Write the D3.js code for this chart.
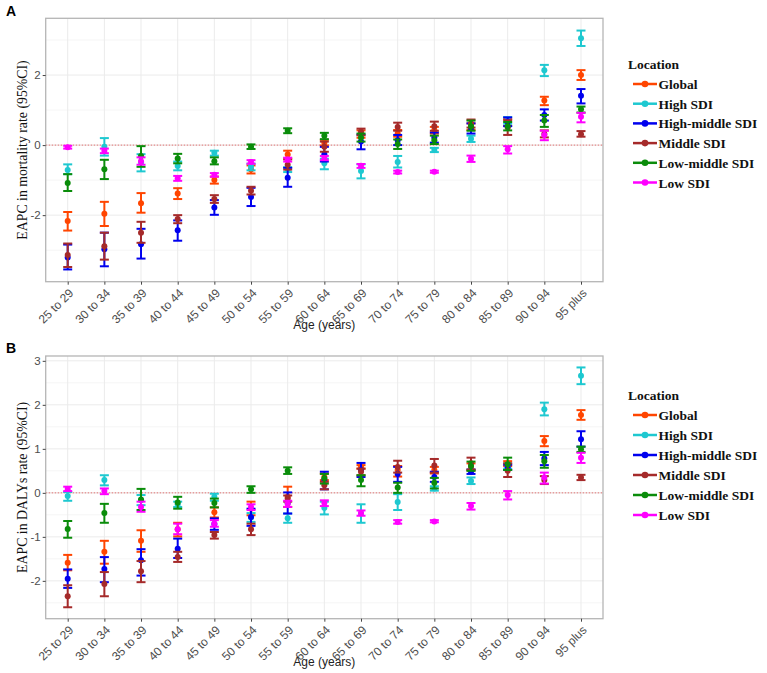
<!DOCTYPE html>
<html><head><meta charset="utf-8">
<script src="https://cdn.jsdelivr.net/npm/d3@7"></script>
<style>body{margin:0;background:#fff}svg{display:block}</style>
</head><body>
<svg id="c" width="767" height="673"></svg>
<script>
const ages = ["25 to 29","30 to 34","35 to 39","40 to 44","45 to 49","50 to 54","55 to 59","60 to 64","65 to 69","70 to 74","75 to 79","80 to 84","85 to 89","90 to 94","95 plus"];
const locations = ["Global","High SDI","High-middle SDI","Middle SDI","Low-middle SDI","Low SDI"];
const locColors = ["#FF4500","#1EC8D0","#0000EE","#A52A2A","#0A8C0A","#FF00FF"];

// Panel A: EAPC in mortality rate, [value, lower, upper]
const mortGlobal = [[-2.17,-2.44,-1.91],[-1.96,-2.31,-1.62],[-1.66,-1.93,-1.37],[-1.38,-1.54,-1.23],[-1.00,-1.10,-0.90],[-0.70,-0.81,-0.58],[-0.27,-0.38,-0.16],[0.07,-0.01,0.15],[0.31,0.21,0.42],[0.33,0.24,0.43],[0.43,0.33,0.52],[0.52,0.43,0.62],[0.64,0.55,0.74],[1.27,1.14,1.38],[2.00,1.86,2.14]];
const mortHigh = [[-0.71,-0.83,-0.55],[-0.05,-0.30,0.20],[-0.50,-0.75,-0.26],[-0.60,-0.72,-0.47],[-0.22,-0.30,-0.16],[-0.62,-0.72,-0.53],[-0.70,-0.77,-0.63],[-0.52,-0.69,-0.39],[-0.74,-0.95,-0.55],[-0.48,-0.64,-0.31],[-0.14,-0.20,-0.08],[0.18,0.09,0.27],[0.71,0.61,0.80],[2.14,1.97,2.29],[3.05,2.83,3.27]];
const mortHighMiddle = [[-3.21,-3.55,-2.84],[-2.97,-3.46,-2.50],[-2.83,-3.24,-2.39],[-2.43,-2.73,-2.15],[-1.78,-1.99,-1.57],[-1.48,-1.74,-1.22],[-0.93,-1.19,-0.65],[-0.26,-0.47,-0.05],[0.10,-0.12,0.30],[0.14,0.00,0.29],[0.22,0.07,0.36],[0.48,0.33,0.62],[0.67,0.54,0.79],[0.86,0.70,1.02],[1.41,1.19,1.60]];
const mortMiddle = [[-3.14,-3.48,-2.81],[-2.89,-3.27,-2.50],[-2.50,-2.79,-2.19],[-2.11,-2.23,-2.00],[-1.54,-1.65,-1.43],[-1.30,-1.41,-1.19],[-0.56,-0.70,-0.41],[-0.05,-0.19,0.10],[0.38,0.28,0.47],[0.52,0.41,0.64],[0.54,0.41,0.67],[0.62,0.50,0.73],[0.50,0.29,0.71],[0.32,0.22,0.42],[0.31,0.24,0.40]];
const mortLowMiddle = [[-1.08,-1.31,-0.83],[-0.69,-0.97,-0.42],[-0.31,-0.62,-0.03],[-0.38,-0.52,-0.25],[-0.46,-0.55,-0.35],[-0.05,-0.11,0.02],[0.41,0.34,0.48],[0.27,0.17,0.35],[0.22,0.10,0.33],[0.03,-0.11,0.16],[0.14,0.03,0.27],[0.54,0.41,0.70],[0.54,0.42,0.66],[0.70,0.52,0.86],[1.02,0.93,1.10]];
const mortLow = [[-0.06,-0.10,-0.02],[-0.16,-0.23,-0.10],[-0.46,-0.56,-0.35],[-0.95,-1.02,-0.88],[-0.85,-0.90,-0.80],[-0.48,-0.53,-0.43],[-0.41,-0.47,-0.36],[-0.37,-0.43,-0.31],[-0.59,-0.65,-0.54],[-0.77,-0.81,-0.73],[-0.76,-0.79,-0.73],[-0.39,-0.48,-0.30],[-0.12,-0.24,-0.03],[0.29,0.14,0.41],[0.81,0.65,0.92]];

// Panel B: EAPC in DALYs rate, [value, lower, upper]
const dalyGlobal = [[-1.59,-1.76,-1.41],[-1.34,-1.61,-1.09],[-1.09,-1.34,-0.85],[-0.83,-0.99,-0.68],[-0.44,-0.56,-0.33],[-0.36,-0.51,-0.20],[-0.09,-0.32,0.14],[0.36,0.29,0.44],[0.59,0.55,0.63],[0.52,0.37,0.61],[0.52,0.44,0.59],[0.59,0.51,0.67],[0.67,0.61,0.72],[1.18,1.06,1.29],[1.77,1.66,1.88]];
const dalyHigh = [[-0.07,-0.18,0.02],[0.29,0.17,0.40],[-0.17,-0.28,-0.05],[-0.26,-0.32,-0.20],[-0.09,-0.18,-0.02],[-0.56,-0.66,-0.46],[-0.58,-0.68,-0.47],[-0.34,-0.49,-0.20],[-0.47,-0.68,-0.26],[-0.21,-0.39,-0.03],[0.10,0.05,0.15],[0.27,0.20,0.35],[0.61,0.55,0.67],[1.90,1.76,2.05],[2.66,2.47,2.85]];
const dalyHighMiddle = [[-1.95,-2.16,-1.74],[-1.73,-2.03,-1.46],[-1.53,-1.88,-1.28],[-1.27,-1.48,-1.04],[-0.71,-0.84,-0.58],[-0.55,-0.75,-0.36],[-0.23,-0.47,0.01],[0.29,0.08,0.48],[0.52,0.36,0.68],[0.43,0.25,0.59],[0.36,0.25,0.48],[0.48,0.43,0.53],[0.58,0.52,0.64],[0.78,0.63,0.93],[1.22,1.05,1.40]];
const dalyMiddle = [[-2.35,-2.60,-2.10],[-2.07,-2.35,-1.80],[-1.78,-2.03,-1.55],[-1.46,-1.57,-1.34],[-0.96,-1.04,-0.89],[-0.83,-0.96,-0.70],[-0.13,-0.20,-0.06],[0.17,0.08,0.25],[0.48,0.40,0.55],[0.59,0.46,0.73],[0.62,0.46,0.77],[0.67,0.53,0.80],[0.50,0.36,0.67],[0.29,0.20,0.38],[0.35,0.29,0.41]];
const dalyLowMiddle = [[-0.82,-1.02,-0.64],[-0.46,-0.68,-0.25],[-0.15,-0.39,0.09],[-0.22,-0.36,-0.09],[-0.23,-0.33,-0.13],[0.08,0.00,0.15],[0.50,0.43,0.58],[0.33,0.21,0.43],[0.29,0.15,0.40],[0.12,0.00,0.23],[0.23,0.10,0.34],[0.61,0.50,0.71],[0.65,0.52,0.80],[0.72,0.57,0.86],[0.99,0.93,1.05]];
const dalyLow = [[0.09,0.04,0.14],[0.04,-0.03,0.10],[-0.32,-0.43,-0.20],[-0.83,-0.94,-0.70],[-0.70,-0.77,-0.62],[-0.32,-0.39,-0.26],[-0.25,-0.32,-0.18],[-0.23,-0.30,-0.17],[-0.46,-0.52,-0.40],[-0.66,-0.70,-0.62],[-0.65,-0.67,-0.62],[-0.30,-0.38,-0.23],[-0.05,-0.15,0.04],[0.35,0.21,0.46],[0.80,0.68,0.91]];

const mortTicks = [-2,0,2];
const mortMinor = [-3,-1,1,3];
const dalyTicks = [-2,-1,0,1,2,3];
const dalyMinor = [-2.5,-1.5,-0.5,0.5,1.5,2.5];

const svg = d3.select("#c");
const fmt = d => (d < 0 ? "-" : "") + Math.abs(d);

function panel(cfg){
  const g = svg.append("g");
  const x = d3.scalePoint().domain(ages).range([cfg.left, cfg.right]).padding(0.6);
  const y = d3.scaleLinear().domain(cfg.ydom).range([cfg.bottom, cfg.top]);
  g.append("rect").attr("x",cfg.left).attr("y",cfg.top).attr("width",cfg.right-cfg.left).attr("height",cfg.bottom-cfg.top).attr("fill","#fff");
  g.selectAll(".mn").data(cfg.minor).enter().append("line")
    .attr("x1",cfg.left).attr("x2",cfg.right).attr("y1",d=>y(d)).attr("y2",d=>y(d))
    .attr("stroke","#f3f3f3").attr("stroke-width",0.8);
  g.selectAll(".mj").data(cfg.ticks).enter().append("line")
    .attr("x1",cfg.left).attr("x2",cfg.right).attr("y1",d=>y(d)).attr("y2",d=>y(d))
    .attr("stroke","#ebebeb").attr("stroke-width",1);
  g.selectAll(".vx").data(ages).enter().append("line")
    .attr("x1",d=>x(d)).attr("x2",d=>x(d)).attr("y1",cfg.top).attr("y2",cfg.bottom)
    .attr("stroke","#ebebeb").attr("stroke-width",1);
  g.append("line").attr("x1",cfg.left).attr("x2",cfg.right).attr("y1",y(0)).attr("y2",y(0))
    .attr("stroke","#E07070").attr("stroke-width",1).attr("stroke-dasharray","1.5,1.5");
  const cap = 4.5;
  cfg.series.forEach((s,i)=>{
    const col = locColors[i];
    const sg = g.append("g");
    s.forEach((d,j)=>{
      const cx = x(ages[j]);
      sg.append("line").attr("x1",cx).attr("x2",cx).attr("y1",y(d[1])).attr("y2",y(d[2])).attr("stroke",col).attr("stroke-width",2);
      sg.append("line").attr("x1",cx-cap).attr("x2",cx+cap).attr("y1",y(d[1])).attr("y2",y(d[1])).attr("stroke",col).attr("stroke-width",2);
      sg.append("line").attr("x1",cx-cap).attr("x2",cx+cap).attr("y1",y(d[2])).attr("y2",y(d[2])).attr("stroke",col).attr("stroke-width",2);
      sg.append("circle").attr("cx",cx).attr("cy",y(d[0])).attr("r",3).attr("fill",col);
    });
  });
  g.append("rect").attr("x",cfg.left).attr("y",cfg.top).attr("width",cfg.right-cfg.left).attr("height",cfg.bottom-cfg.top)
    .attr("fill","none").attr("stroke","#b5b5b5").attr("stroke-width",1.3);
  const ya = g.append("g").attr("transform",`translate(${cfg.left},0)`)
    .call(d3.axisLeft(y).tickValues(cfg.ticks).tickSize(3).tickFormat(fmt));
  ya.select(".domain").remove();
  ya.selectAll("line").attr("stroke","#444");
  ya.selectAll("text").attr("fill","#4d4d4d").style("font-family","Liberation Sans, Arial, sans-serif").style("font-size","11.5px").attr("x",-5);
  const xa = g.append("g").attr("transform",`translate(0,${cfg.bottom})`)
    .call(d3.axisBottom(x).tickSize(3));
  xa.select(".domain").remove();
  xa.selectAll("line").attr("stroke","#444");
  xa.selectAll("text").attr("fill","#4d4d4d").style("font-family","Liberation Sans, Arial, sans-serif").style("font-size","12px")
    .attr("text-anchor","end").attr("dy",null).attr("y",0).attr("x",0)
    .attr("transform","translate(6,12) rotate(-45)");
  svg.append("text").attr("x",(cfg.left+cfg.right)/2).attr("y",cfg.bottom+47.5)
    .attr("text-anchor","middle").style("font-family","Liberation Sans, Arial, sans-serif").style("font-size","12px").attr("fill","#222").text("Age (years)");
  svg.append("text").attr("transform",`translate(27,${(cfg.top+cfg.bottom)/2}) rotate(-90)`)
    .attr("text-anchor","middle").style("font-family","Liberation Serif, Times New Roman, serif").style("font-size","13.8px").attr("fill","#111").text(cfg.ytitle);
  svg.append("text").attr("x",6).attr("y",cfg.labelY).style("font-family","Liberation Sans, Arial, sans-serif").style("font-weight","bold").style("font-size","14px").text(cfg.label);
  const lg = svg.append("g").attr("transform",`translate(0,${cfg.legendY})`);
  lg.append("text").attr("x",628).attr("y",0).style("font-family","Liberation Serif, Times New Roman, serif").style("font-weight","bold").style("font-size","13.5px").attr("fill","#111").text("Location");
  locations.forEach((l,i)=>{
    const yy = 20 + i*cfg.legendStep - 5;
    lg.append("line").attr("x1",633).attr("x2",657).attr("y1",yy).attr("y2",yy).attr("stroke",locColors[i]).attr("stroke-width",2.5);
    lg.append("circle").attr("cx",645).attr("cy",yy).attr("r",3.3).attr("fill",locColors[i]);
    lg.append("text").attr("x",658.5).attr("y",yy+5).style("font-family","Liberation Serif, Times New Roman, serif").style("font-weight","bold").style("font-size","13.5px").attr("fill","#111").text(l);
  });
}

panel({left:45.7,right:603,top:18.3,bottom:281.7,ydom:[-3.9,3.62],ticks:mortTicks,minor:mortMinor,
  series:[mortGlobal,mortHigh,mortHighMiddle,mortMiddle,mortLowMiddle,mortLow],
  ytitle:"EAPC in mortality rate (95%CI)",label:"A",labelY:16,legendY:69,legendStep:19.7});
panel({left:45.7,right:603,top:356,bottom:618.7,ydom:[-2.86,3.11],ticks:dalyTicks,minor:dalyMinor,
  series:[dalyGlobal,dalyHigh,dalyHighMiddle,dalyMiddle,dalyLowMiddle,dalyLow],
  ytitle:"EAPC in DALYs rate (95%CI)",label:"B",labelY:353,legendY:400,legendStep:20});
</script>
</body></html>
